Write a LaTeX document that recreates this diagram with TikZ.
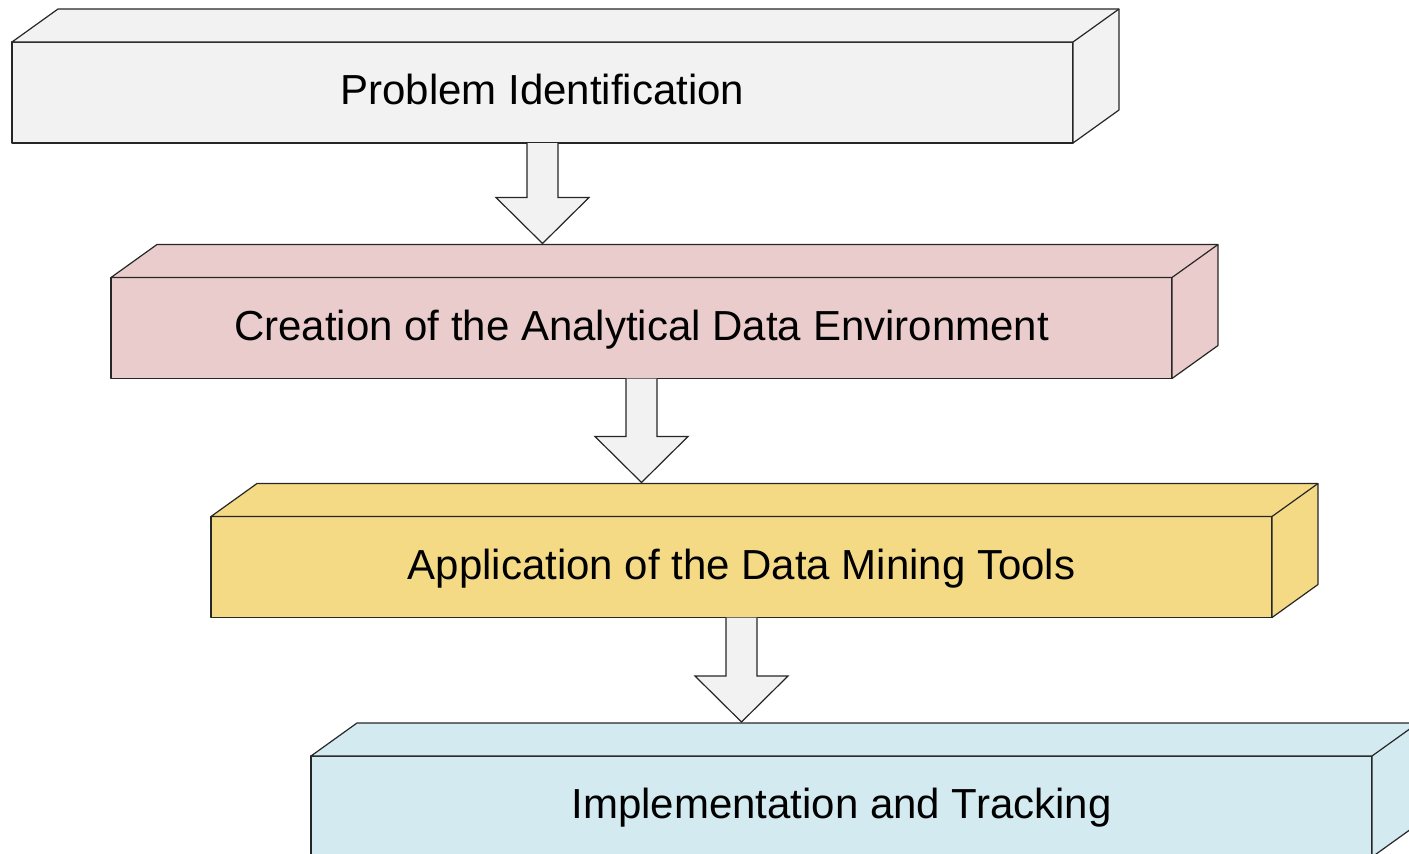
\documentclass[tikz,border=0pt]{standalone}
\usepackage{fontspec}
\setmainfont{Liberation Sans}
\usetikzlibrary{calc}
\definecolor{edge}{HTML}{262626}
\definecolor{cgrey}{HTML}{F2F2F2}
\definecolor{cpink}{HTML}{EBCCCC}
\definecolor{cyellow}{HTML}{F4DA85}
\definecolor{cblue}{HTML}{D3EAF0}
\tikzset{
  slabfront/.style={draw=edge, line width=1.2pt, minimum width=1061pt, minimum height=101pt,
    inner sep=0pt, outer sep=0pt, anchor=north west, font=\fontsize{42}{50}\selectfont,
    text height=24pt, text depth=0pt, line join=round},
  slabside/.style={draw=edge, line width=1.2pt, line join=round},
  blockarrow/.style={draw=edge, fill=cgrey, line width=1.2pt, line join=miter}
}
\newcommand\slab[5]{%
  \node[slabfront, fill=#4] (#1) at (#2,#3) {#5};
  \draw[slabside, fill=#4] (#1.north west) -- ++(46,-33) -- ++(1061,0) -- ++(0,101)
     -- (#1.south east) -- (#1.north east) -- cycle;
  \draw[slabside] (#1.north east) -- ++(46,-33);
}
\newcommand\barrow[3]{%
  \coordinate (#3) at ($(#1.south |- #2.north)+(0,-34)$);
  \draw[blockarrow] ($(#1.south)+(-15.5,0)$) -- ($(#3)+(-15.5,-46)$) -- ($(#3)+(-46.5,-46)$)
     -- (#3) -- ($(#3)+(46.5,-46)$) -- ($(#3)+(15.5,-46)$) -- ($(#1.south)+(15.5,0)$);
}
\begin{document}
\begin{tikzpicture}[x=1pt,y=-1pt]
  \useasboundingbox (0,0) rectangle (1409,854);
  \clip (0,0) rectangle (1409,854);
  \slab{b1}{12}{42}{cgrey}{Problem Identification}
  \slab{b2}{111}{277.5}{cpink}{Creation of the Analytical Data Environment}
  \slab{b3}{211}{516.5}{cyellow}{Application of the Data Mining Tools}
  \slab{b4}{311}{756}{cblue}{Implementation and Tracking}
  \barrow{b1}{b2}{t1}
  \barrow{b2}{b3}{t2}
  \barrow{b3}{b4}{t3}
\end{tikzpicture}
\end{document}
